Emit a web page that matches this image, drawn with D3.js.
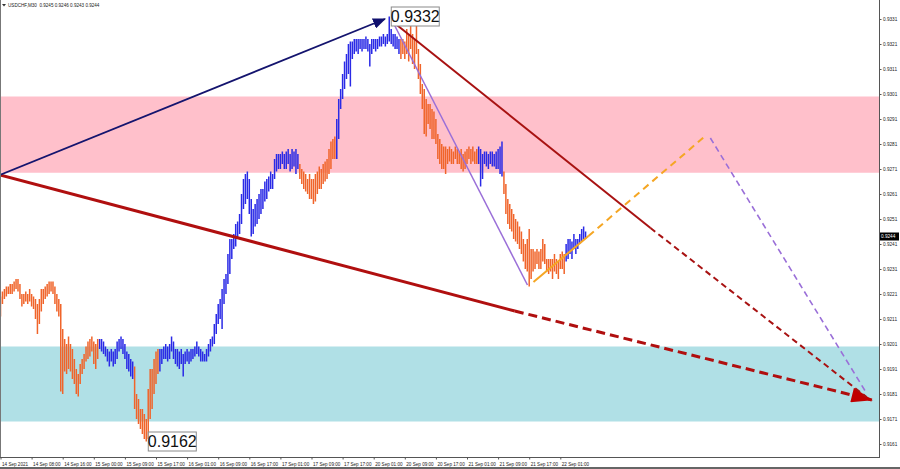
<!DOCTYPE html>
<html><head><meta charset="utf-8">
<script src="https://cdn.jsdelivr.net/npm/d3@7"></script>
<style>html,body{margin:0;padding:0;background:#fff;} svg{display:block;font-family:"Liberation Sans",Arial,sans-serif;}</style>
</head><body><svg id="c" width="900" height="469"></svg>
<script>
// ---------- data ----------
const chartTitle = "USDCHF,M30  0.9245 0.9246 0.9243 0.9244";
const timeLabels = ["14 Sep 2021","14 Sep 08:00","14 Sep 16:00","15 Sep 00:00","15 Sep 09:00","15 Sep 17:00","16 Sep 01:00","16 Sep 09:00","16 Sep 17:00","17 Sep 01:00","17 Sep 09:00","17 Sep 17:00","20 Sep 01:00","20 Sep 09:00","20 Sep 17:00","21 Sep 01:00","21 Sep 09:00","21 Sep 17:00","22 Sep 01:00"];
const priceTicks = [0.9331,0.9321,0.9311,0.9301,0.9291,0.9281,0.9271,0.9261,0.9251,0.9241,0.9231,0.9221,0.9211,0.9201,0.9191,0.9181,0.9171,0.9161];
const highs = [
0.9220,0.9222,0.9223,0.9224,0.9224,0.9225,0.9225,0.9226,0.9227,0.9227,0.9225,
0.9221,0.9221,0.9222,0.9221,0.9223,0.9221,0.9220,0.9219,0.9217,0.9219,
0.9223,0.9223,0.9224,0.9225,0.9226,0.9226,0.9226,0.9224,0.9221,0.9219,
0.9217,0.9207,0.9203,0.9201,0.9204,0.9201,0.9199,0.9195,0.9191,0.9189,
0.9193,0.9195,0.9197,0.9200,0.9202,0.9203,0.9204,0.9202,0.9201,0.9203,
0.9203,0.9203,0.9202,0.9200,0.9199,0.9198,0.9199,0.9198,0.9199,0.9202,
0.9203,0.9204,0.9203,0.9201,0.9198,0.9197,0.9195,0.9194,0.9192,0.9181,
0.9179,0.9175,0.9175,0.9173,0.9171,0.9183,0.9191,0.9191,0.9195,0.9198,
0.9199,0.9199,0.9199,0.9200,0.9201,0.9200,0.9201,0.9204,0.9202,0.9199,
0.9199,0.9198,0.9199,0.9197,0.9198,0.9199,0.9198,0.9199,0.9199,0.9200,
0.9202,0.9200,0.9199,0.9198,0.9197,0.9199,0.9201,0.9203,0.9204,0.9209,
0.9213,0.9217,0.9219,0.9223,0.9227,0.9229,0.9237,0.9243,0.9243,0.9245,
0.9249,0.9250,0.9253,0.9261,0.9267,0.9269,0.9270,0.9267,0.9259,0.9255,
0.9257,0.9259,0.9261,0.9263,0.9263,0.9266,0.9267,0.9268,0.9270,0.9269,
0.9275,0.9277,0.9277,0.9277,0.9278,0.9277,0.9278,0.9279,0.9277,0.9279,
0.9278,0.9279,0.9277,0.9273,0.9271,0.9270,0.9269,0.9267,0.9269,0.9267,
0.9267,0.9269,0.9270,0.9272,0.9271,0.9273,0.9274,0.9275,0.9279,0.9282,
0.9283,0.9284,0.9291,0.9299,0.9303,0.9309,0.9314,0.9317,0.9321,0.9322,
0.9322,0.9323,0.9323,0.9323,0.9323,0.9323,0.9323,0.9324,0.9323,0.9321,
0.9323,0.9323,0.9323,0.9323,0.9324,0.9324,0.9325,0.9324,0.9325,0.9332,
0.9327,0.9325,0.9325,0.9324,0.9323,0.9323,0.9323,0.9322,0.9327,0.9325,
0.9329,0.9325,0.9323,0.9331,0.9319,0.9313,0.9305,0.9303,0.9299,0.9297,
0.9297,0.9295,0.9294,0.9291,0.9285,0.9283,0.9281,0.9280,0.9280,0.9279,
0.9280,0.9279,0.9278,0.9280,0.9279,0.9278,0.9279,0.9277,0.9278,0.9279,
0.9280,0.9279,0.9280,0.9278,0.9279,0.9280,0.9279,0.9277,0.9278,0.9278,
0.9277,0.9278,0.9278,0.9277,0.9278,0.9279,0.9280,0.9282,0.9270,0.9265,
0.9259,0.9257,0.9255,0.9253,0.9251,0.9250,0.9248,0.9246,0.9243,0.9241,
0.9243,0.9247,0.9239,0.9239,0.9238,0.9239,0.9238,0.9239,0.9243,0.9241,
0.9235,0.9235,0.9235,0.9235,0.9237,0.9235,0.9234,0.9237,0.9238,0.9237,
0.9241,0.9243,0.9243,0.9242,0.9245,0.9243,0.9243,0.9245,0.9247,0.9248,0.9246];
const lows = [
0.9212,0.9217,0.9219,0.9220,0.9221,0.9221,0.9221,0.9222,0.9223,0.9222,0.9219,
0.9216,0.9217,0.9218,0.9217,0.9218,0.9216,0.9215,0.9211,0.9205,0.9209,
0.9214,0.9217,0.9219,0.9220,0.9221,0.9222,0.9221,0.9217,0.9214,0.9212,
0.9182,0.9181,0.9190,0.9189,0.9191,0.9190,0.9187,0.9185,0.9181,0.9180,
0.9185,0.9189,0.9191,0.9194,0.9195,0.9196,0.9198,0.9193,0.9191,0.9195,
0.9199,0.9198,0.9197,0.9196,0.9194,0.9192,0.9194,0.9192,0.9193,0.9195,
0.9198,0.9199,0.9197,0.9195,0.9191,0.9190,0.9188,0.9187,0.9175,0.9171,
0.9169,0.9167,0.9165,0.9163,0.9162,0.9163,0.9171,0.9175,0.9181,0.9185,
0.9189,0.9190,0.9193,0.9195,0.9195,0.9194,0.9195,0.9198,0.9195,0.9193,
0.9192,0.9191,0.9193,0.9188,0.9193,0.9194,0.9193,0.9194,0.9195,0.9196,
0.9197,0.9196,0.9194,0.9194,0.9194,0.9194,0.9196,0.9198,0.9200,0.9201,
0.9205,0.9209,0.9211,0.9207,0.9217,0.9221,0.9225,0.9229,0.9235,0.9239,
0.9240,0.9243,0.9245,0.9249,0.9255,0.9257,0.9259,0.9253,0.9244,0.9245,
0.9248,0.9249,0.9251,0.9253,0.9255,0.9258,0.9259,0.9262,0.9263,0.9263,
0.9267,0.9270,0.9271,0.9271,0.9273,0.9271,0.9271,0.9273,0.9270,0.9271,
0.9272,0.9269,0.9271,0.9267,0.9265,0.9263,0.9262,0.9261,0.9259,0.9259,
0.9257,0.9258,0.9261,0.9263,0.9263,0.9265,0.9266,0.9267,0.9269,0.9271,
0.9275,0.9275,0.9275,0.9283,0.9295,0.9299,0.9303,0.9307,0.9309,0.9304,
0.9315,0.9317,0.9318,0.9317,0.9319,0.9318,0.9319,0.9319,0.9318,0.9312,
0.9317,0.9319,0.9318,0.9319,0.9320,0.9320,0.9321,0.9320,0.9321,0.9322,
0.9321,0.9320,0.9319,0.9319,0.9317,0.9315,0.9317,0.9315,0.9317,0.9314,
0.9319,0.9313,0.9311,0.9317,0.9307,0.9301,0.9295,0.9285,0.9284,0.9289,
0.9287,0.9283,0.9283,0.9281,0.9275,0.9273,0.9271,0.9271,0.9269,0.9273,
0.9274,0.9273,0.9273,0.9275,0.9273,0.9273,0.9271,0.9270,0.9271,0.9273,
0.9275,0.9273,0.9274,0.9273,0.9273,0.9273,0.9264,0.9267,0.9273,0.9272,
0.9271,0.9273,0.9272,0.9272,0.9271,0.9271,0.9269,0.9268,0.9261,0.9253,
0.9249,0.9247,0.9246,0.9243,0.9242,0.9241,0.9239,0.9237,0.9234,0.9231,
0.9230,0.9224,0.9227,0.9230,0.9231,0.9233,0.9231,0.9231,0.9234,0.9233,
0.9230,0.9229,0.9230,0.9227,0.9230,0.9229,0.9227,0.9231,0.9231,0.9229,
0.9234,0.9235,0.9237,0.9235,0.9239,0.9237,0.9239,0.9241,0.9242,0.9243,0.9243];
const waveStarts = [0, 51, 69, 82, 154, 173, 206, 246, 259, 291];
const waveDirs   = ["down","up","down","up","down","up","down","up","down","up"];
const resistanceZone = [0.9300, 0.92695];
const supportZone = [0.9200, 0.9170];
const extremes = [{bar:200, price:0.9332, text:"0.9332"}, {bar:75, price:0.9162, text:"0.9162"}];
const lastPrice = 0.9244;
// drawn analysis lines: [bar index, price]
const navyArrow   = [[-0.3,0.92686],[197.8,0.93310]];
const redMain     = [[-0.3,0.92686],[264.6,0.92142]];
const redMainDash = [[264.6,0.92142],[448.3,0.91786]];
const redSecond   = [[202,0.93298],[334.4,0.92474]];
const redSecondDash=[[334.4,0.92474],[445.5,0.91798]];
const purpleLine  = [[201.6,0.93302],[271.1,0.92246]];
const orangeLine  = [[274.2,0.92258],[302.5,0.92442]];
const orangeDash  = [[302.5,0.92442],[363.2,0.92846]];
const purpleDash  = [[365.2,0.92834],[445.5,0.91814]];

// ---------- drawing ----------
const W = 900, H = 469, plotR = 879, plotB = 457;
const svg = d3.select("#c");
const x = d3.scaleLinear().domain([0, 288]).range([0.5, 560.3]);
const y = d3.scaleLinear().domain([0.9331, 0.9161]).range([19, 444]);

const defs = svg.append("defs");
defs.append("clipPath").attr("id","plot").append("rect").attr("x",0).attr("y",0).attr("width",plotR).attr("height",plotB);
defs.append("marker").attr("id","navyHead").attr("markerUnits","userSpaceOnUse")
  .attr("viewBox","0 0 12 10").attr("refX",11).attr("refY",5).attr("markerWidth",13).attr("markerHeight",11).attr("orient","auto")
  .append("path").attr("d","M0,0 L12,5 L0,10 Z").attr("fill","#10106e");
defs.append("marker").attr("id","redHead").attr("markerUnits","userSpaceOnUse")
  .attr("viewBox","0 0 20 14").attr("refX",19).attr("refY",7).attr("markerWidth",22).attr("markerHeight",15).attr("orient","auto")
  .append("path").attr("d","M0,0 L20,7 L0,14 Z").attr("fill","#c00000");

const g = svg.append("g").attr("clip-path","url(#plot)");

// zones
g.append("rect").attr("x",0).attr("width",plotR)
  .attr("y",y(resistanceZone[0])).attr("height",y(resistanceZone[1])-y(resistanceZone[0])).attr("fill","#ffc0cb");
g.append("rect").attr("x",0).attr("width",plotR)
  .attr("y",y(supportZone[0])).attr("height",y(supportZone[1])-y(supportZone[0])).attr("fill","#b0e0e6");

// bars
const dirOf = i => { let d = waveDirs[0]; waveStarts.forEach((s,k)=>{ if (i>=s) d = waveDirs[k]; }); return d; };
const barColor = {up:"#2a2ae6", down:"#f0642a"};
g.append("g").selectAll("line").data(highs).join("line")
  .attr("x1",(d,i)=>x(i)).attr("x2",(d,i)=>x(i))
  .attr("y1",d=>y(d)).attr("y2",(d,i)=>y(lows[i]))
  .attr("stroke",(d,i)=>barColor[dirOf(i)]).attr("stroke-width",1.5);

// analysis lines
const ln = d3.line().x(d=>x(d[0])).y(d=>y(d[1]));
function draw(pts, color, w, dash, marker){
  const p = g.append("path").attr("d",ln(pts)).attr("fill","none").attr("stroke",color).attr("stroke-width",w);
  if (dash) p.attr("stroke-dasharray",dash);
  if (marker) p.attr("marker-end",`url(#${marker})`);
}
draw(redMain, "#b00f0f", 3);
draw(redMainDash, "#b00f0f", 3, "9,5", "redHead");
draw(redSecond, "#a81212", 2);
draw(redSecondDash, "#a81212", 2, "6,4");
draw(navyArrow, "#14146e", 1.8, null, "navyHead");
draw(purpleLine, "#9a6fd8", 1.5);
draw(orangeLine, "#f5a623", 2);
draw(orangeDash, "#f5a623", 2, "7,5");
draw(purpleDash, "#9a6fd8", 1.6, "6,4");

// extreme labels
extremes.forEach(e => {
  const bx = x(e.bar)+2, cy = y(e.price);
  const lg = svg.append("g");
  lg.append("rect").attr("x",bx).attr("y",cy-9.5).attr("width",48).attr("height",19)
    .attr("fill","#fff").attr("stroke","#8a8a8a").attr("stroke-width",1);
  lg.append("text").attr("x",bx+24).attr("y",cy+5.5).attr("text-anchor","middle")
    .attr("font-size",16).attr("fill","#111").text(e.text);
});

// frame
svg.append("line").attr("x1",0.5).attr("x2",0.5).attr("y1",0).attr("y2",plotB).attr("stroke","#777");
svg.append("line").attr("x1",plotR+0.5).attr("x2",plotR+0.5).attr("y1",0).attr("y2",plotB+0.5).attr("stroke","#555");
svg.append("line").attr("x1",0).attr("x2",plotR+1).attr("y1",plotB+0.5).attr("y2",plotB+0.5).attr("stroke","#555");
svg.append("line").attr("x1",0).attr("x2",W).attr("y1",H-1).attr("y2",H-1).attr("stroke","#666").attr("stroke-width",2);

// price axis
const ya = svg.append("g").attr("transform",`translate(${plotR+0.5},0)`)
  .call(d3.axisRight(y).tickValues(priceTicks).tickFormat(d3.format(".4f")).tickSize(2).tickPadding(1.5));
ya.select(".domain").remove();
ya.selectAll("text").attr("font-size",4.7).attr("fill","#222").attr("font-family","Liberation Sans, Arial, sans-serif");
ya.selectAll("line").attr("stroke","#555");

// time axis
const xa = svg.append("g").attr("transform",`translate(0,${plotB+0.5})`)
  .call(d3.axisBottom(x).tickValues(d3.range(0, 289, 16)).tickFormat((d,k)=>timeLabels[k]).tickSize(2).tickPadding(3));
xa.select(".domain").remove();
xa.selectAll("text").attr("font-size",4.6).attr("fill","#222").attr("text-anchor","start").attr("dx",1)
  .attr("font-family","Liberation Sans, Arial, sans-serif");
xa.selectAll("line").attr("stroke","#555");

// last price tag
const ly = y(lastPrice);
svg.append("rect").attr("x",plotR+1).attr("y",ly-4).attr("width",19).attr("height",8).attr("fill","#000");
svg.append("text").attr("x",plotR+2).attr("y",ly+1.8).attr("font-size",4.7).attr("fill","#fff").text(d3.format(".4f")(lastPrice));

// title
svg.append("path").attr("d","M2,4 L6,4 L4,6.5 Z").attr("fill","#333");
svg.append("text").attr("x",8).attr("y",7).attr("font-size",4.6).attr("fill","#222").attr("xml:space","preserve").text(chartTitle);
</script></body></html>
